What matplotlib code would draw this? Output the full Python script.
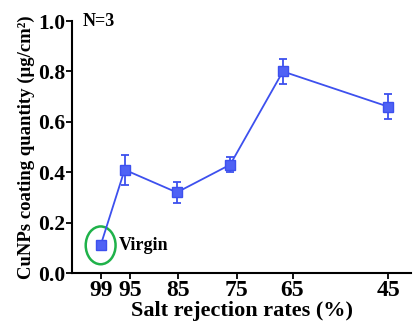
import matplotlib
matplotlib.use("Agg")
import matplotlib.pyplot as plt
from matplotlib.patches import Ellipse

rejection = [99, 94.5, 84.7, 74.7, 64.8, 45]
coating = [0.11, 0.41, 0.32, 0.43, 0.80, 0.66]
errors = [0.01, 0.06, 0.04, 0.03, 0.05, 0.05]
xtick_pos = [99, 93.4, 84.5, 73.5, 63.0, 45]
xtick_labels = ["99", "95", "85", "75", "65", "45"]
ytick_vals = [0.0, 0.2, 0.4, 0.6, 0.8, 1.0]

plt.rcParams['font.family'] = ['Liberation Serif', 'DejaVu Serif']
plt.rcParams['font.weight'] = 'bold'

fig = plt.figure(figsize=(4.13, 3.29), dpi=100)
ax = fig.add_axes([0.174, 0.170, 0.822, 0.766])

blue = '#3d50ee'
ax.errorbar(rejection, coating, yerr=errors, color=blue, lw=1.3, marker='s',
            markersize=7, markerfacecolor='#4f62f5', markeredgecolor=blue,
            ecolor=blue, elinewidth=1.3, capsize=3, capthick=1.3)

ax.add_patch(Ellipse((rejection[0], coating[0]), width=5.6, height=0.15,
                     fill=False, edgecolor='#1fb24a', lw=1.8, clip_on=False))
ax.text(95.5, coating[0], 'Virgin', fontsize=13, fontweight='bold', va='center', ha='left')
ax.text(102.3, 1.0, 'N=3', fontsize=13, fontweight='bold', va='center', ha='left')

ax.set_xlim(104.4, 40.7)
ax.set_ylim(0, 1.0)
ax.set_xticks(xtick_pos)
ax.set_xticklabels(xtick_labels)
ax.set_yticks(ytick_vals)
ax.set_yticklabels([f"{v:.1f}" for v in ytick_vals])

for s in ['top', 'right']:
    ax.spines[s].set_visible(False)
for s in ['left', 'bottom']:
    ax.spines[s].set_linewidth(1.5)
ax.tick_params(axis='both', direction='out', width=1.3, length=4)
ax.tick_params(axis='y', labelsize=15.5, pad=1)
ax.tick_params(axis='x', labelsize=17, pad=1)
for lab in ax.get_xticklabels() + ax.get_yticklabels():
    lab.set_fontweight('bold')

ax.set_xlabel('Salt rejection rates (%)', fontsize=16, fontweight='bold', labelpad=0)
ax.set_ylabel('CuNPs coating quantity (μg/cm²)', fontsize=13.5, fontweight='bold', labelpad=2)

fig.savefig('out.png', dpi=100)
